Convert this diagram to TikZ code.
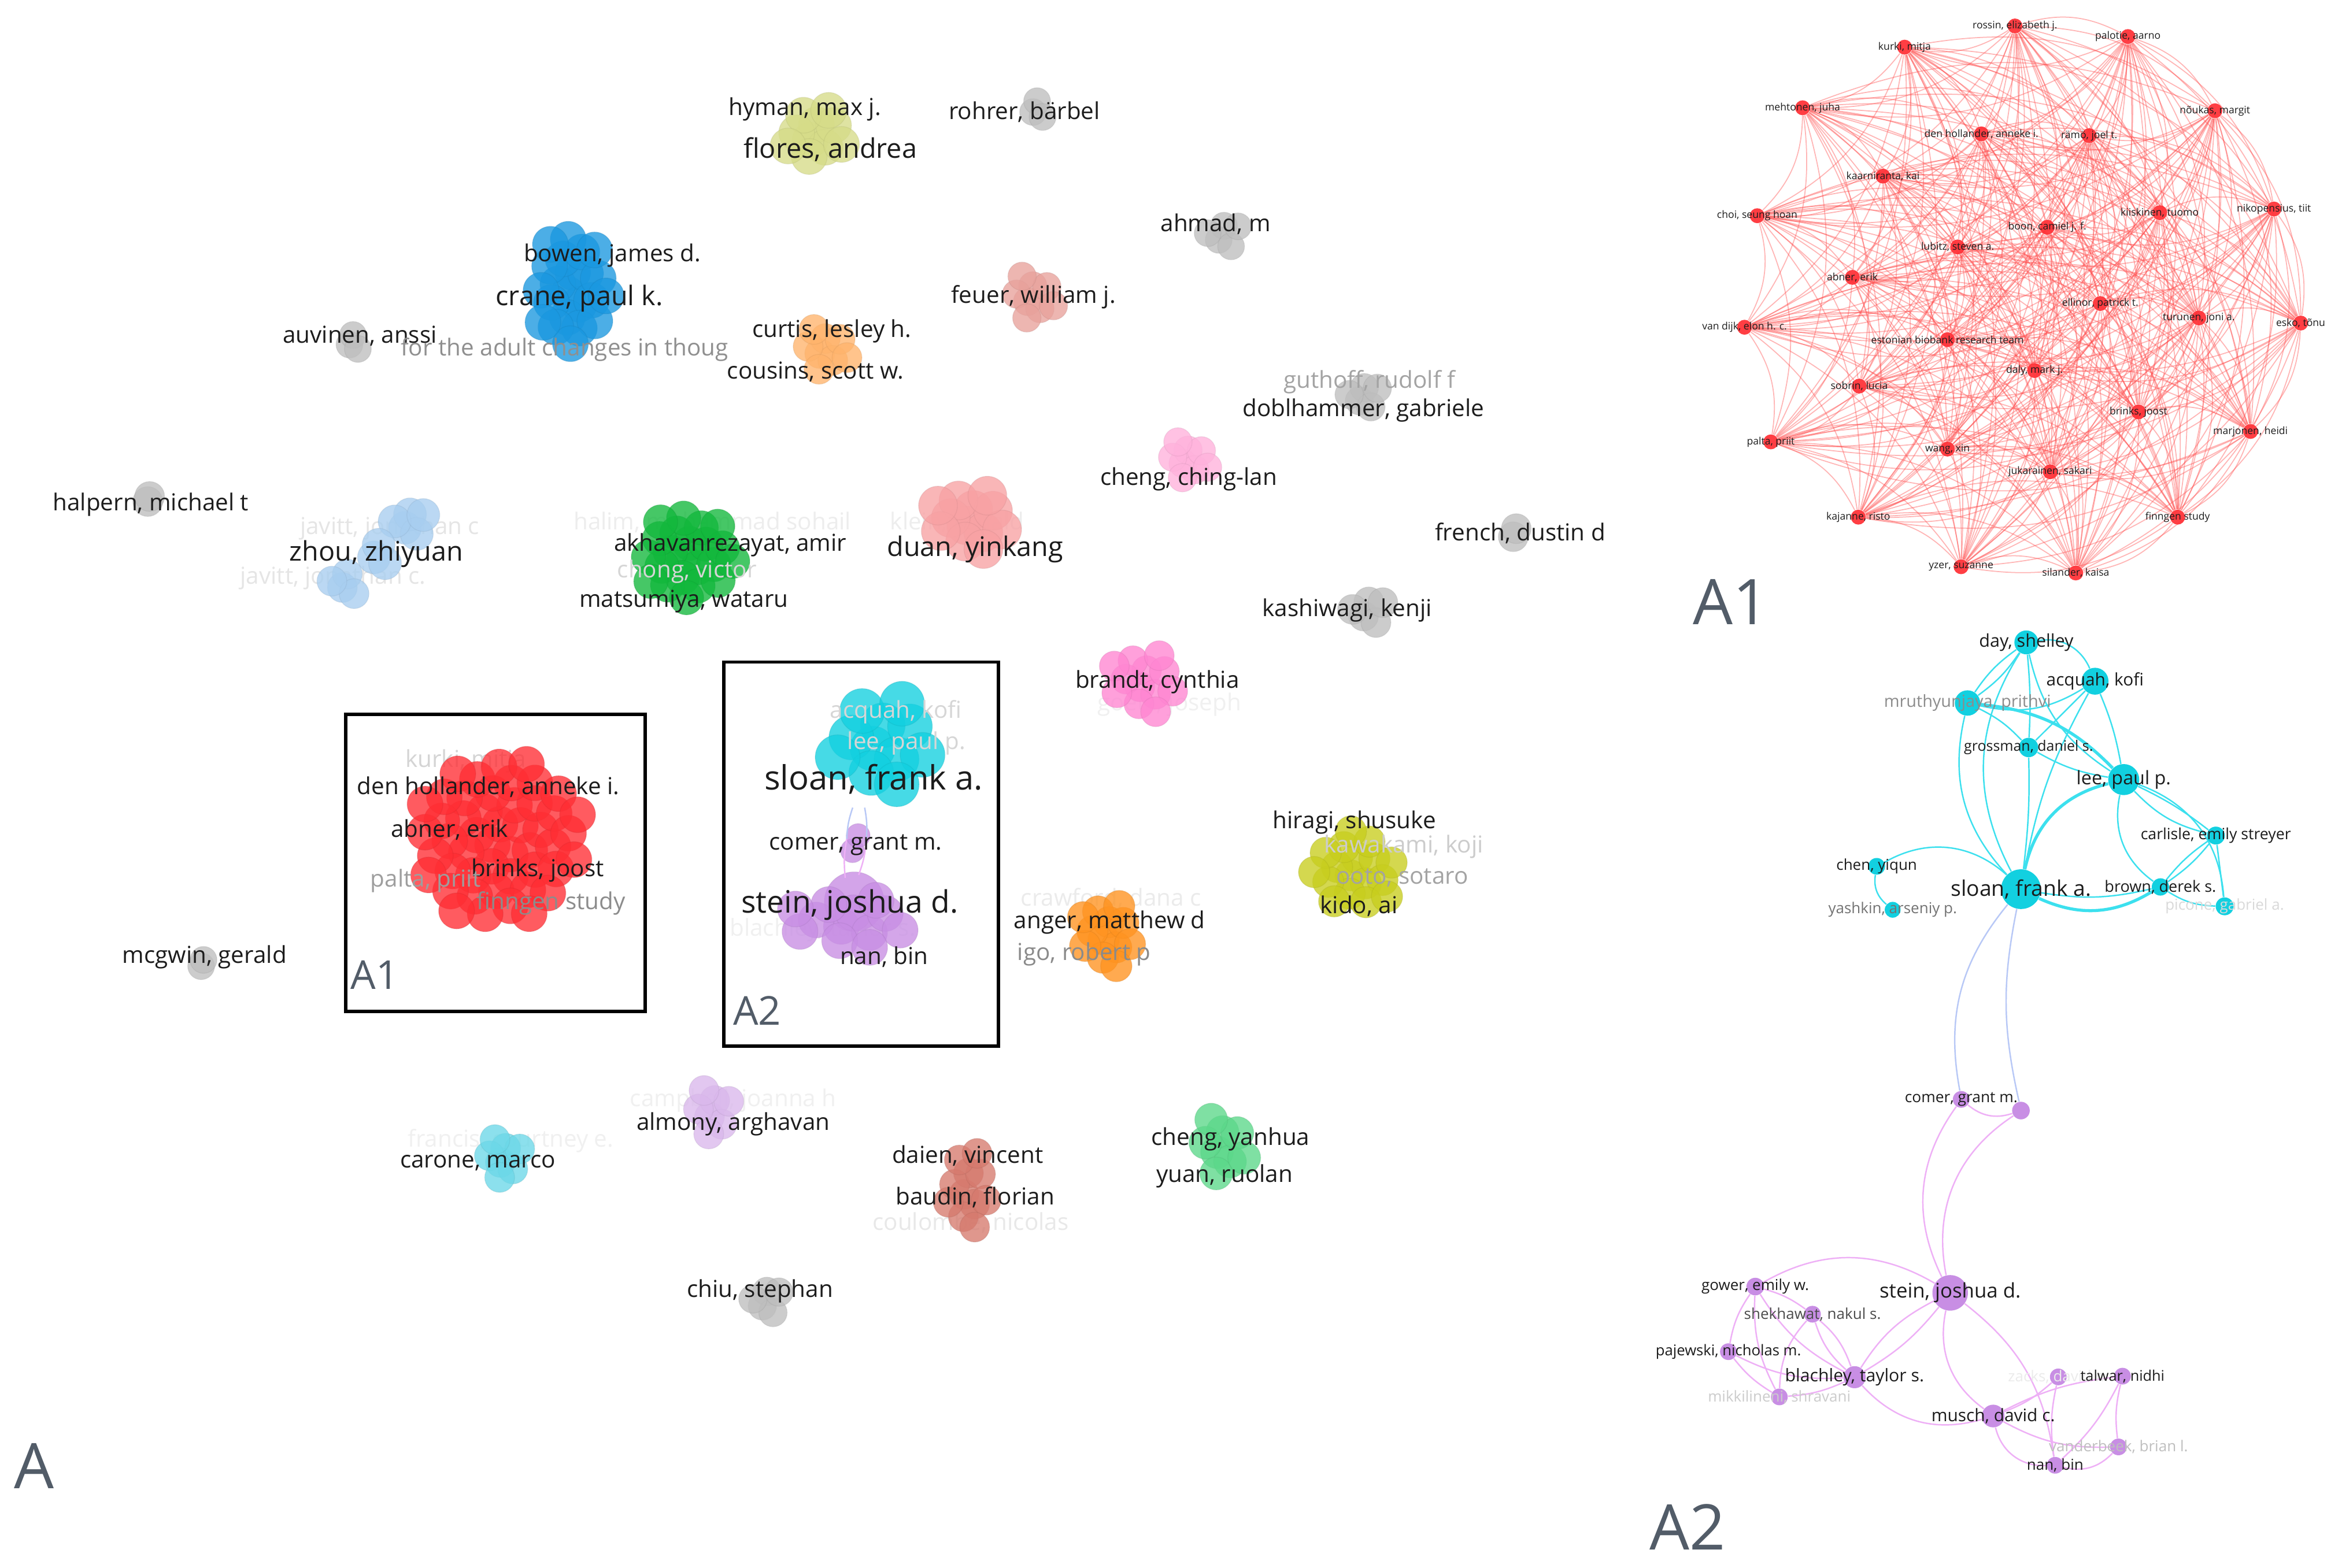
\documentclass[tikz,border=0pt]{standalone}
\usepackage{fontspec}
\setmainfont{Open Sans}
\pgfdeclarelayer{bg}
\pgfsetlayers{bg,main}
\definecolor{lblack}{HTML}{1C1C1C}
\definecolor{bigA}{HTML}{525C68}
\definecolor{gry}{HTML}{BEBEBE}
\definecolor{cblue}{HTML}{1A98E0}
\definecolor{cgreen}{HTML}{12B83C}
\definecolor{cred}{HTML}{FF2E34}
\definecolor{ccyan}{HTML}{12D0E0}
\definecolor{cpurp}{HTML}{C88EE4}
\definecolor{cpale}{HTML}{D6DC88}
\definecolor{corl}{HTML}{FFB46C}
\definecolor{csalm}{HTML}{E8A29C}
\definecolor{cpinkl}{HTML}{FFB2DC}
\definecolor{cblul}{HTML}{A8CEF0}
\definecolor{credl}{HTML}{F8A2A4}
\definecolor{cpink}{HTML}{FF86D2}
\definecolor{colive}{HTML}{C8CE1E}
\definecolor{corange}{HTML}{FF9320}
\definecolor{ccyl}{HTML}{6CD8E8}
\definecolor{clav}{HTML}{DAB8EC}
\definecolor{cterra}{HTML}{D67A6E}
\definecolor{cmint}{HTML}{5CD88A}
\definecolor{aedgec}{HTML}{FF5050}
\definecolor{cedgec}{HTML}{3CE0EE}
\definecolor{pedgec}{HTML}{EEB0F6}
\definecolor{mixedge}{HTML}{B8C8F6}
% cluster of overlapping circles: x, y, count, spacing, radius, colour, xscale, yscale
\newcommand\grapes[8]{%
  \foreach \k in {1,...,#3}{%
    \pgfmathsetmacro\grR{#4*sqrt(\k-0.5)}%
    \pgfmathsetmacro\grA{\k*137.508}%
    \filldraw[fill=#6, draw=#6!75!black, fill opacity=0.78, draw opacity=0.18, line width=0.4pt]
      ({#1+#7*\grR*cos(\grA)},{#2+#8*\grR*sin(\grA)}) circle[radius=#5];
  }%
}
\begin{document}
\begin{tikzpicture}[x=0.02583cm, y=-0.02583cm,
  lab/.style={inner sep=0pt, text=lblack, font=\fontsize{11.5}{13}\selectfont},
  labm/.style={lab, font=\fontsize{13.3}{15}\selectfont},
  labl/.style={lab, font=\fontsize{15.2}{17}\selectfont},
  labxl/.style={lab, font=\fontsize{16.5}{18}\selectfont},
  faint/.style={lab, text=#1},
  bigl/.style={inner sep=0pt, text=bigA, font=\fontsize{31}{34}\selectfont},
  boxl/.style={inner sep=0pt, text=bigA, font=\fontsize{19.6}{22}\selectfont},
  boxframe/.style={draw=black, line width=1.6pt},
  anode/.style={circle, fill=cred, fill opacity=0.92, inner sep=0pt, minimum size=10*0.02583cm},
  alab/.style={inner sep=0pt, text=lblack, font=\fontsize{5}{6}\selectfont},
  aedge/.style={draw=aedgec, line width=0.5pt, draw opacity=0.42},
  cnode/.style={circle, fill=ccyan, inner sep=0pt, minimum size=#1*0.05166cm},
  pnode/.style={circle, fill=cpurp, inner sep=0pt, minimum size=#1*0.05166cm},
  blab/.style={inner sep=0pt, text=lblack, font=\fontsize{#1}{#1}\selectfont},
  cedge/.style={draw=cedgec, line width=0.7pt},
  cedgeT/.style={draw=cedgec, line width=1.5pt},
  pedge/.style={draw=pedgec, line width=0.7pt},
  medge/.style={draw=mixedge, line width=0.7pt}
]
\useasboundingbox (0,0) rectangle (1568.3,1050.3);
\begin{pgfonlayer}{bg}
\fill[white] (0,0) rectangle (1568.3,1050.3);
\end{pgfonlayer}

% ================= faint labels lying under the clusters =================
\node[faint=black!10] (ljav1) at (261,354) {javitt, jonathan c};
\node[faint=black!10] (ljav2) at (223,387) {javitt, jonathan c.};
\node[faint=black!7] (lhalim) at (477,350) {halim, muhammad sohail};
\node[faint=black!7] (lklein) at (641,350) {klein, ronald};
\node[faint=black!6] (lgoetz) at (783,472) {goetz, joseph};
\node[faint=black!17] (lkurki) at (312,510) {kurki, mitja};
\node[faint=black!6] (lblach) at (551,623) {blachley, taylor s.};
\node[faint=black!8] (lcraw) at (744,602) {crawford, dana c};
\node[faint=black!6] (lfranc) at (342,764) {francis, courtney e.};
\node[faint=black!6] (lcamp) at (491,737) {campbell, joanna h};
\node[faint=black!9] (lcoul) at (650,819) {coulombe, nicolas};

% ================= main map: clusters =================
\grapes{546}{91}{10}{6.8}{12}{cpale}{1}{0.9}
\grapes{694}{73}{3}{4.3}{9}{gry}{1}{1}
\grapes{383}{193}{22}{5.1}{12}{cblue}{1}{1.7}
\grapes{236}{229}{3}{3.8}{9}{gry}{1}{1}
\grapes{552}{234}{8}{5.9}{10}{corl}{1}{1}
\grapes{819}{158}{5}{5.6}{9}{gry}{1}{1}
\grapes{691}{199}{8}{5.6}{9.5}{csalm}{1}{1.1}
\grapes{913}{266}{5}{5.2}{9.5}{gry}{1}{1}
\grapes{795}{308}{8}{5.3}{9.5}{cpinkl}{1}{1}
\grapes{100}{335}{2}{2}{10}{gry}{1}{1}
\grapes{274}{351}{5}{5.3}{11}{cblul}{1}{1}
\grapes{253}{371}{3}{5}{11}{cblul}{1}{1}
\grapes{232}{391}{4}{5.3}{10}{cblul}{1}{1}
\grapes{461}{372}{22}{6.6}{11.5}{cgreen}{1}{1}
\grapes{651}{349}{12}{7.8}{13}{credl}{1}{0.78}
\grapes{1015}{358}{2}{3.2}{10}{gry}{1}{1}
\grapes{916}{410}{5}{5.6}{10}{gry}{1}{1}
\grapes{767}{457}{12}{7.1}{10}{cpink}{1}{0.9}
\grapes{334}{562}{48}{8.1}{12}{cred}{1}{1}
\grapes{590}{497}{11}{10.8}{15}{ccyan}{1}{0.85}
\grapes{574}{567}{2}{6}{8}{cpurp}{1}{1}
\filldraw[fill=cpurp, draw=cpurp!75!black, fill opacity=0.8, draw opacity=0.18, line width=0.4pt] (572,604) circle[radius=20];
\grapes{570}{618}{12}{6.7}{12}{cpurp}{1.9}{0.8}
\grapes{908}{583}{17}{6.9}{10.5}{colive}{1}{1}
\grapes{742}{626}{12}{5.7}{10.5}{corange}{1}{1.2}
\grapes{136}{646}{2}{2.5}{9}{gry}{1}{1}
\grapes{338}{776}{7}{5.6}{10}{ccyl}{1}{1}
\grapes{478}{745}{7}{5.6}{10}{clav}{1}{1.15}
\grapes{648}{796}{11}{4.8}{10}{cterra}{1}{1.75}
\grapes{818}{768}{8}{5.9}{11}{cmint}{1}{1.35}
\grapes{513}{872}{5}{4.8}{9.5}{gry}{1}{1.2}

% links inside box A2
\coordinate (ma1) at (571,541); \coordinate (ma2) at (579,541);
\coordinate (mb1) at (567,562); \coordinate (mb2) at (580,563);
\coordinate (mc1) at (566,588); \coordinate (mc2) at (575,586);
\draw[medge] (ma1) to[bend right=8] (mb1);
\draw[medge] (ma2) to[bend left=8] (mb2);
\draw[pedge] (mb1) to[bend right=8] (mc1);
\draw[pedge] (mb2) to[bend left=8] (mc2);

% boxes
\draw[boxframe] (231.4,478.4) rectangle (432,677.4);
\draw[boxframe] (484.6,443.5) rectangle (668.6,700.7);

% ================= main map: labels =================
\node[lab] (lhyman) at (539,73) {hyman, max j.};
\node[labm] (lflores) at (556,100) {flores, andrea};
\node[lab] (lrohrer) at (686,75) {rohrer, bärbel};
\node[lab] (lahmad) at (814,150) {ahmad, m};
\node[lab] (lbowen) at (410,171) {bowen, james d.};
\node[labm] (lcrane) at (388,200) {crane, paul k.};
\node[lab] (lfeuer) at (692,199) {feuer, william j.};
\node[lab] (lauvinen) at (241,225) {auvinen, anssi};
\node[faint=black!44] (ladult) at (378,234) {for the adult changes in thoug};
\node[lab] (lcurtis) at (557,222) {curtis, lesley h.};
\node[lab] (lcousins) at (546,249) {cousins, scott w.};
\node[faint=black!36] (lguthoff) at (917,256) {guthoff, rudolf f};
\node[lab] (ldobl) at (913,275) {doblhammer, gabriele};
\node[lab] (lching) at (796,321) {cheng, ching-lan};
\node[lab] (lhalpern) at (101,338) {halpern, michael t};
\node[labm] (lzhou) at (252,371) {zhou, zhiyuan};
\node[lab] (lakh) at (489,365) {akhavanrezayat, amir};
\node[faint=black!16] (lchong) at (460,383) {chong, victor};
\node[lab] (lmats) at (458,403) {matsumiya, wataru};
\node[labm] (lduan) at (653,368) {duan, yinkang};
\node[lab] (lfrench) at (1018,357) {french, dustin d};
\node[lab] (lkash) at (902,409) {kashiwagi, kenji};
\node[lab] (lbrandt) at (775,457) {brandt, cynthia};
\node[lab] (lden) at (327,527) {den hollander, anneke i.};
\node[lab] (labner) at (301,556) {abner, erik};
\node[lab] (lbrinks) at (360,583) {brinks, joost};
\node[faint=black!38] (lpalta) at (285,590) {palta, priit};
\node[faint=black!45] (lfinn) at (369,605) {finngen study};
\node[faint=black!16] (lacq) at (600,477) {acquah, kofi};
\node[faint=black!16] (llee) at (607,498) {lee, paul p.};
\node[labxl] (lsloan) at (585,522) {sloan, frank a.};
\node[lab] (lcomer) at (573,566) {comer, grant m.};
\node[labl] (lstein) at (569,606) {stein, joshua d.};
\node[lab] (lnan) at (592,641) {nan, bin};
\node[lab] (lhiragi) at (907,551) {hiragi, shusuke};
\node[faint=black!20] (lkawa) at (940,567) {kawakami, koji};
\node[faint=black!36] (looto) at (939,588) {ooto, sotaro};
\node[lab] (lkido) at (910,607) {kido, ai};
\node[lab] (langer) at (743,618) {anger, matthew d};
\node[faint=black!46] (ligo) at (726,639) {igo, robert p};
\node[lab] (lmcgwin) at (137,641) {mcgwin, gerald};
\node[lab] (lcarone) at (320,779) {carone, marco};
\node[lab] (lalmony) at (491,753) {almony, arghavan};
\node[lab] (ldaien) at (648,774) {daien, vincent};
\node[lab] (lbaudin) at (653,802) {baudin, florian};
\node[lab] (lcyan) at (824,763) {cheng, yanhua};
\node[lab] (lyuan) at (820,788) {yuan, ruolan};
\node[lab] (lchiu) at (509,865) {chiu, stephan};

\node[boxl] (xA1) at (251,653) {A1};
\node[boxl] (xA2) at (507,677) {A2};
\node[bigl] (bA) at (23,982) {A};
\node[bigl] (bA1) at (1159,403) {A1};
\node[bigl] (bA2) at (1130,1023) {A2};

% ================= inset A1 =================
\node[anode] (r1) at (1349.3,17.4) {};
\node[anode] (r2) at (1424.9,24.5) {};
\node[anode] (r3) at (1275.4,31.6) {};
\node[anode] (r4) at (1207.1,72.2) {};
\node[anode] (r5) at (1483.2,74.2) {};
\node[anode] (r6) at (1326.8,89.7) {};
\node[anode] (r7) at (1399.0,90.9) {};
\node[anode] (r8) at (1260.9,118) {};
\node[anode] (r9) at (1176.7,144.5) {};
\node[anode] (r10) at (1446.2,142.5) {};
\node[anode] (r11) at (1522.7,140) {};
\node[anode] (r12) at (1370.9,152.2) {};
\node[anode] (r13) at (1310.9,165.4) {};
\node[anode] (r14) at (1240.4,185.8) {};
\node[anode] (r15) at (1406.4,203.3) {};
\node[anode] (r16) at (1168.2,219.2) {};
\node[anode] (r17) at (1472.4,213) {};
\node[anode] (r18) at (1540.6,216.4) {};
\node[anode] (r19) at (1304.1,227.5) {};
\node[anode] (r20) at (1362.4,248.2) {};
\node[anode] (r21) at (1245,258.6) {};
\node[anode] (r22) at (1432,275.9) {};
\node[anode] (r23) at (1507,289) {};
\node[anode] (r24) at (1185.8,296) {};
\node[anode] (r25) at (1304.1,300.8) {};
\node[anode] (r26) at (1372.9,316) {};
\node[anode] (r27) at (1244.4,346.4) {};
\node[anode] (r28) at (1458.2,346.4) {};
\node[anode] (r29) at (1313.2,379.6) {};
\node[anode] (r30) at (1390,383.8) {};
\begin{pgfonlayer}{bg}
\foreach \i in {1,...,29}{%
  \pgfmathtruncatemacro\js{\i+1}%
  \foreach \j in {\js,...,30}{%
    \draw[aedge] (r\i) to[bend left=22] (r\j);
  }}
\end{pgfonlayer}
\node[alab] (t1) at (r1) {rossin, elizabeth j.};
\node[alab] (t2) at (r2) {palotie, aarno};
\node[alab] (t3) at (r3) {kurki, mitja};
\node[alab] (t4) at (r4) {mehtonen, juha};
\node[alab] (t5) at (r5) {nõukas, margit};
\node[alab] (t6) at (r6) {den hollander, anneke i.};
\node[alab] (t7) at (r7) {rämö, joel t.};
\node[alab] (t8) at (r8) {kaarniranta, kai};
\node[alab] (t9) at (r9) {choi, seung hoan};
\node[alab] (t10) at (r10) {kiiskinen, tuomo};
\node[alab] (t11) at (r11) {nikopensius, tiit};
\node[alab] (t12) at (r12) {boon, camiel j. f.};
\node[alab] (t13) at (r13) {lubitz, steven a.};
\node[alab] (t14) at (r14) {abner, erik};
\node[alab] (t15) at (r15) {ellinor, patrick t.};
\node[alab] (t16) at (r16) {van dijk, elon h. c.};
\node[alab] (t17) at (r17) {turunen, joni a.};
\node[alab] (t18) at (r18) {esko, tõnu};
\node[alab] (t19) at (r19) {estonian biobank research team};
\node[alab] (t20) at (r20) {daly, mark j.};
\node[alab] (t21) at (r21) {sobrin, lucia};
\node[alab] (t22) at (r22) {brinks, joost};
\node[alab] (t23) at (r23) {marjonen, heidi};
\node[alab] (t24) at (r24) {palta, priit};
\node[alab] (t25) at (r25) {wang, xin};
\node[alab] (t26) at (r26) {jukarainen, sakari};
\node[alab] (t27) at (r27) {kajanne, risto};
\node[alab] (t28) at (r28) {finngen study};
\node[alab] (t29) at (r29) {yzer, suzanne};
\node[alab] (t30) at (r30) {silander, kaisa};

% ================= inset A2 =================
\node[cnode=8] (cday) at (1356.9,430.3) {};
\node[cnode=9] (cacq) at (1402.9,456.3) {};
\node[cnode=8.5] (cmru) at (1317.5,470.9) {};
\node[cnode=6.5] (cgro) at (1358.4,500.7) {};
\node[cnode=10.4] (clee) at (1422.1,522.2) {};
\node[cnode=6] (ccar) at (1483.8,559.7) {};
\node[cnode=5.6] (cche) at (1256.7,580.3) {};
\node[cnode=13.3] (cslo) at (1353.3,595.6) {};
\node[cnode=5.8] (cbro) at (1446.7,594.1) {};
\node[cnode=5.3] (cyas) at (1267.4,609.4) {};
\node[cnode=6] (cpic) at (1489.7,607.1) {};

\node[pnode=5.6] (pcom) at (1313.3,736.4) {};
\node[pnode=5.9] (pn2) at (1353.3,743.9) {};
\node[pnode=5.9] (pgow) at (1175.4,861.8) {};
\node[pnode=11.9] (pste) at (1305.9,866) {};
\node[pnode=5.6] (pshe) at (1213.7,880.3) {};
\node[pnode=5.6] (ppaj) at (1157.4,905.4) {};
\node[pnode=7.4] (pbla) at (1241.9,922.5) {};
\node[pnode=5.6] (pmik) at (1191.5,935.7) {};
\node[pnode=5.6] (pzac) at (1378.3,922.3) {};
\node[pnode=5.6] (ptal) at (1421.3,921.8) {};
\node[pnode=7.6] (pmus) at (1334.7,948.5) {};
\node[pnode=5.6] (pvan) at (1418.6,969.2) {};
\node[pnode=5.6] (pnan) at (1376.2,981.5) {};

\begin{pgfonlayer}{bg}
\draw[cedge] (cday) to[bend left=38] (cacq);
\draw[cedge] (cday) to[bend right=10] (cmru);
\draw[cedge] (cday) to[bend left=10] (cmru);
\draw[cedge] (cday) to[bend left=4] (cgro);
\draw[cedge] (cday) to[bend right=30] (cslo);
\draw[cedge] (cday) to[bend right=22] (clee);
\draw[cedge] (cacq) to[bend left=22] (cmru);
\draw[cedge] (cacq) to (cgro);
\draw[cedge] (cacq) to[bend right=9] (cslo);
\draw[cedge] (cacq) to[bend left=6] (clee);
\draw[cedge] (cmru) to[bend left=10] (cgro);
\draw[cedgeT] (cmru) to[bend left=20] (clee);
\draw[cedge] (cmru) to[bend right=28] (cslo);
\draw[cedge] (cgro) to[bend right=10] (clee);
\draw[cedge] (cgro) to[bend left=4] (cslo);
\draw[cedgeT] (cslo) to[bend left=32] (clee);
\draw[cedge] (clee) to[bend right=16] (ccar);
\draw[cedge] (clee) to[bend left=6] (ccar);
\draw[cedge] (clee) to[bend right=33] (cbro);
\draw[cedge] (clee) to[bend left=33] (cpic);
\draw[cedge] (ccar) to[bend right=8] (cbro);
\draw[cedge] (ccar) to[bend left=8] (cbro);
\draw[cedge] (ccar) to (cpic);
\draw[cedge] (cbro) to[bend right=15] (cpic);
\draw[cedgeT] (cslo) to[bend right=28] (cbro);
\draw[cedge] (cslo) to[bend right=11] (cbro);
\draw[cedge] (cche) to[bend left=36] (cslo);
\draw[cedge] (cche) to[bend right=29] (cyas);

\draw[medge] (cslo) to[bend right=25] (pcom);
\draw[medge] (cslo) to[bend right=12] (pn2);
\draw[pedge] (pcom) to[bend right=29] (pn2);
\draw[pedge] (pcom) to[bend right=31] (pste);
\draw[pedge] (pn2) to[bend right=34] (pste);
\draw[pedge] (pgow) to[bend left=30] (pste);
\draw[pedge] (pgow) to[bend left=10] (pshe);
\draw[pedge] (pgow) to[bend right=12] (ppaj);
\draw[pedge] (pgow) to[bend right=15] (pbla);
\draw[pedge] (pgow) to[bend right=15] (pmik);
\draw[pedge] (pshe) to[bend left=15] (pbla);
\draw[pedge] (pshe) to[bend right=15] (pbla);
\draw[pedge] (pshe) to[bend right=20] (pmik);
\draw[pedge] (ppaj) to[bend right=15] (pbla);
\draw[pedge] (ppaj) to[bend right=10] (pmik);
\draw[pedge] (pbla) to[bend left=10] (pmik);
\draw[pedge] (pbla) to[bend left=15] (pste);
\draw[pedge] (pbla) to[bend right=10] (pste);
\draw[pedge] (pbla) to[bend right=32] (pmus);
\draw[pedge] (pste) to[bend right=33] (pmus);
\draw[pedge] (pste) to[bend left=22] (pnan);
\draw[pedge] (pmus) to[bend right=40] (pnan);
\draw[pedge] (pmus) to[bend right=10] (pzac);
\draw[pedge] (pmus) to[bend left=10] (ptal);
\draw[pedge] (pmus) to[bend right=15] (pvan);
\draw[pedge] (pzac) to[bend right=10] (pnan);
\draw[pedge] (ptal) to[bend right=10] (pvan);
\draw[pedge] (ptal) to[bend left=10] (pnan);
\draw[pedge] (pvan) to[bend left=30] (pnan);
\end{pgfonlayer}

\node[blab=8.7] (tday) at (cday) {day, shelley};
\node[blab=8.5] (tacq) at (cacq) {acquah, kofi};
\node[blab=8.2, text=black!45] (tmru) at (cmru) {mruthyunjaya, prithvi};
\node[blab=7.1] (tgro) at (cgro) {grossman, daniel s.};
\node[blab=9.2] (tlee) at (clee) {lee, paul p.};
\node[blab=7.6] (tcar) at (ccar) {carlisle, emily streyer};
\node[blab=7.4] (tche) at (cche) {chen, yiqun};
\node[blab=10.6] (tslo) at (cslo) {sloan, frank a.};
\node[blab=7.7] (tbro) at (cbro) {brown, derek s.};
\node[blab=7.4, text=black!55] (tyas) at (cyas) {yashkin, arseniy p.};
\node[blab=7.4, text=black!15] (tpic) at (cpic) {picone, gabriel a.};

\node[blab=7.5] (tcom) at (pcom) {comer, grant m.};
\node[blab=7.4] (tgow) at (pgow) {gower, emily w.};
\node[blab=9.9] (tste) at (pste) {stein, joshua d.};
\node[blab=7.4, text=black!70] (tshe) at (pshe) {shekhawat, nakul s.};
\node[blab=7.3] (tpaj) at (ppaj) {pajewski, nicholas m.};
\node[blab=8.6] (tbla) at (pbla) {blachley, taylor s.};
\node[blab=7.4, text=black!20] (tmik) at (pmik) {mikkilineni, shravani};
\node[blab=7.4, text=black!8] (tzac) at (pzac) {zacks, david n.};
\node[blab=7.2] (ttal) at (ptal) {talwar, nidhi};
\node[blab=8.5] (tmus) at (pmus) {musch, david c.};
\node[blab=7.4, text=black!25] (tvan) at (pvan) {vanderbeek, brian l.};
\node[blab=7.4] (tnan) at (pnan) {nan, bin};
\end{tikzpicture}
\end{document}
